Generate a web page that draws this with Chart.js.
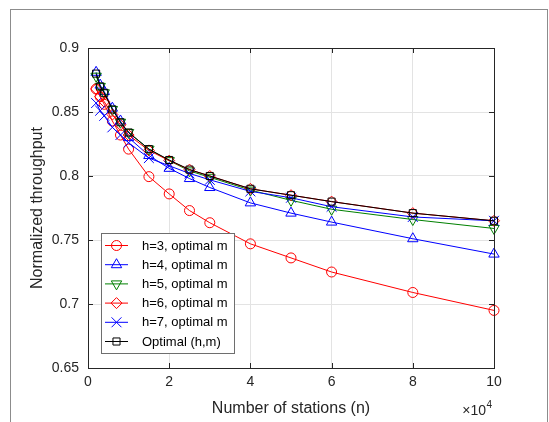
<!DOCTYPE html>
<html>
<head>
<meta charset="utf-8">
<script src="https://cdn.jsdelivr.net/npm/chart.js@4.4.0/dist/chart.umd.js"></script>
<style>
  body { margin: 0; background: #fff; }
</style>
</head>
<body>
<canvas id="myChart" width="549" height="422"></canvas>
<script>
// number of stations n
const stations = [2000, 3000, 4000, 6000, 8000, 10000, 15000, 20000, 25000, 30000, 40000, 50000, 60000, 80000, 100000];

// normalized throughput per scheme
const h3 = [0.868, 0.862, 0.856, 0.843, 0.832, 0.821, 0.7995, 0.786, 0.773, 0.7635, 0.747, 0.736, 0.725, 0.709, 0.695];
const h4 = [0.881, 0.871, 0.866, 0.853, 0.843, 0.830, 0.816, 0.806, 0.798, 0.791, 0.779, 0.771, 0.764, 0.751, 0.739];
const h5 = [0.878, 0.870, 0.865, 0.852, 0.842, 0.834, 0.821, 0.812, 0.804, 0.799, 0.789, 0.781, 0.774, 0.766, 0.759];
const h6 = [0.868, 0.862, 0.858, 0.848, 0.840, 0.832, 0.820, 0.812, 0.805, 0.800, 0.790, 0.785, 0.780, 0.771, 0.765];
const h7 = [0.857, 0.851, 0.847, 0.838, 0.832, 0.826, 0.814, 0.808, 0.802, 0.797, 0.788, 0.783, 0.776, 0.768, 0.765];
const optimal = [0.880, 0.870, 0.865, 0.852, 0.842, 0.834, 0.821, 0.8125, 0.805, 0.800, 0.790, 0.785, 0.780, 0.771, 0.765];

const seriesLabels = ["h=3, optimal m", "h=4, optimal m", "h=5, optimal m", "h=6, optimal m", "h=7, optimal m", "Optimal (h,m)"];

const xTicks = [0, 2, 4, 6, 8, 10];   // x 10^4
const yTicks = [0.65, 0.7, 0.75, 0.8, 0.85, 0.9];

const FONT = "'Liberation Sans', Arial, Helvetica, sans-serif";
const TXT = '#262626';

function series(label, values, color, style, radius, rotation, order) {
  return {
    label: label,
    data: stations.map((n, i) => ({x: n, y: values[i]})),
    borderColor: color,
    backgroundColor: color,
    borderWidth: 1,
    pointStyle: style,
    pointRadius: radius,
    pointRotation: rotation,
    pointBorderColor: color,
    pointBackgroundColor: 'rgba(0,0,0,0)',
    pointBorderWidth: 1,
    fill: false,
    tension: 0,
    clip: false,
    order: order
  };
}

const matlabAxes = {
  id: 'matlabAxes',
  beforeDraw(chart) {
    const ctx = chart.ctx;
    ctx.save();
    ctx.fillStyle = '#fff';
    ctx.fillRect(0, 0, chart.width, chart.height);
    ctx.strokeStyle = '#8c8c8c';
    ctx.lineWidth = 1;
    ctx.strokeRect(10.5, 9.5, 537, 440);
    ctx.restore();
  },
  afterDraw(chart) {
    const ctx = chart.ctx;
    const a = chart.chartArea;
    const x = chart.scales.x, y = chart.scales.y;
    ctx.save();
    ctx.strokeStyle = TXT;
    ctx.lineWidth = 1;
    // inward ticks on all four sides
    ctx.beginPath();
    x.ticks.forEach(t => {
      const px = Math.round(x.getPixelForValue(t.value)) + 0.5;
      ctx.moveTo(px, a.bottom); ctx.lineTo(px, a.bottom - 5);
      ctx.moveTo(px, a.top); ctx.lineTo(px, a.top + 5);
    });
    y.ticks.forEach(t => {
      const py = Math.round(y.getPixelForValue(t.value)) + 0.5;
      ctx.moveTo(a.left, py); ctx.lineTo(a.left + 5, py);
      ctx.moveTo(a.right, py); ctx.lineTo(a.right - 5, py);
    });
    ctx.stroke();
    ctx.strokeRect(a.left + 0.5, a.top + 0.5, a.right - a.left, a.bottom - a.top);

    // x10^4 exponent
    ctx.fillStyle = TXT;
    ctx.textBaseline = 'alphabetic';
    ctx.textAlign = 'right';
    ctx.font = '10px ' + FONT;
    ctx.fillText('4', a.right - 2, 408);
    ctx.font = '14px ' + FONT;
    ctx.fillText('\u00d710', a.right - 8, 415);

    // legend
    const bx = a.left + 13, by = a.bottom - 135, bw = 133, bh = 120;
    ctx.fillStyle = '#fff';
    ctx.fillRect(bx, by, bw, bh);
    ctx.strokeStyle = '#6e6e6e';
    ctx.strokeRect(bx + 0.5, by + 0.5, bw, bh);
    ctx.font = '13px ' + FONT;
    ctx.textAlign = 'left';
    ctx.textBaseline = 'middle';
    chart.data.datasets.forEach((ds, i) => {
      const ry = by + 12.5 + i * 19.2;
      ctx.strokeStyle = ds.borderColor;
      ctx.lineWidth = 1;
      ctx.beginPath();
      ctx.moveTo(bx + 4, ry); ctx.lineTo(bx + 27, ry);
      ctx.stroke();
      ctx.fillStyle = 'rgba(0,0,0,0)';
      Chart.helpers.drawPoint(ctx, {
        pointStyle: ds.pointStyle, rotation: ds.pointRotation,
        radius: ds.pointRadius, borderWidth: 1
      }, bx + 15.5, ry);
      ctx.fillStyle = '#000';
      ctx.fillText(ds.label, bx + 41, ry + 0.5);
    });
    ctx.restore();
  }
};

new Chart(document.getElementById('myChart').getContext('2d'), {
  type: 'line',
  data: {
    datasets: [
      series(seriesLabels[0], h3, '#ff0000', 'circle', 5, 0, 5),
      series(seriesLabels[1], h4, '#0000ff', 'triangle', 6, 0, 4),
      series(seriesLabels[2], h5, '#008000', 'triangle', 6, 180, 3),
      series(seriesLabels[3], h6, '#ff0000', 'rectRot', 5.5, 0, 2),
      series(seriesLabels[4], h7, '#0000ff', 'crossRot', 7, 0, 1),
      series(seriesLabels[5], optimal, '#000000', 'rect', 5, 0, 0)
    ]
  },
  options: {
    responsive: false,
    animation: false,
    layout: { padding: { left: 0, right: 55, top: 48, bottom: 0 } },
    plugins: {
      legend: { display: false },
      tooltip: { enabled: false }
    },
    scales: {
      x: {
        type: 'linear',
        min: 0,
        max: 100000,
        afterBuildTicks: s => { s.ticks = xTicks.map(v => ({ value: v * 1e4 })); },
        afterFit: s => { s.height = 54; },
        ticks: {
          callback: v => String(v / 1e4),
          color: TXT,
          font: { family: FONT, size: 14 },
          padding: 6,
          maxRotation: 0
        },
        grid: { color: '#e3e3e3', drawTicks: false },
        border: { display: false },
        title: {
          display: true,
          text: 'Number of stations (n)',
          color: TXT,
          font: { family: FONT, size: 16 },
          padding: { top: 4, bottom: 4 }
        }
      },
      y: {
        min: 0.65,
        max: 0.9,
        afterBuildTicks: s => { s.ticks = yTicks.map(v => ({ value: v })); },
        afterFit: s => { s.width = 88; },
        ticks: {
          callback: v => String(Math.round(v * 100) / 100),
          color: TXT,
          font: { family: FONT, size: 14 },
          padding: 9
        },
        grid: { color: '#e3e3e3', drawTicks: false },
        border: { display: false },
        title: {
          display: true,
          text: 'Normalized throughput',
          color: TXT,
          font: { family: FONT, size: 16 },
          padding: { top: 28, bottom: 28 }
        }
      }
    }
  },
  plugins: [matlabAxes]
});
</script>
</body>
</html>
